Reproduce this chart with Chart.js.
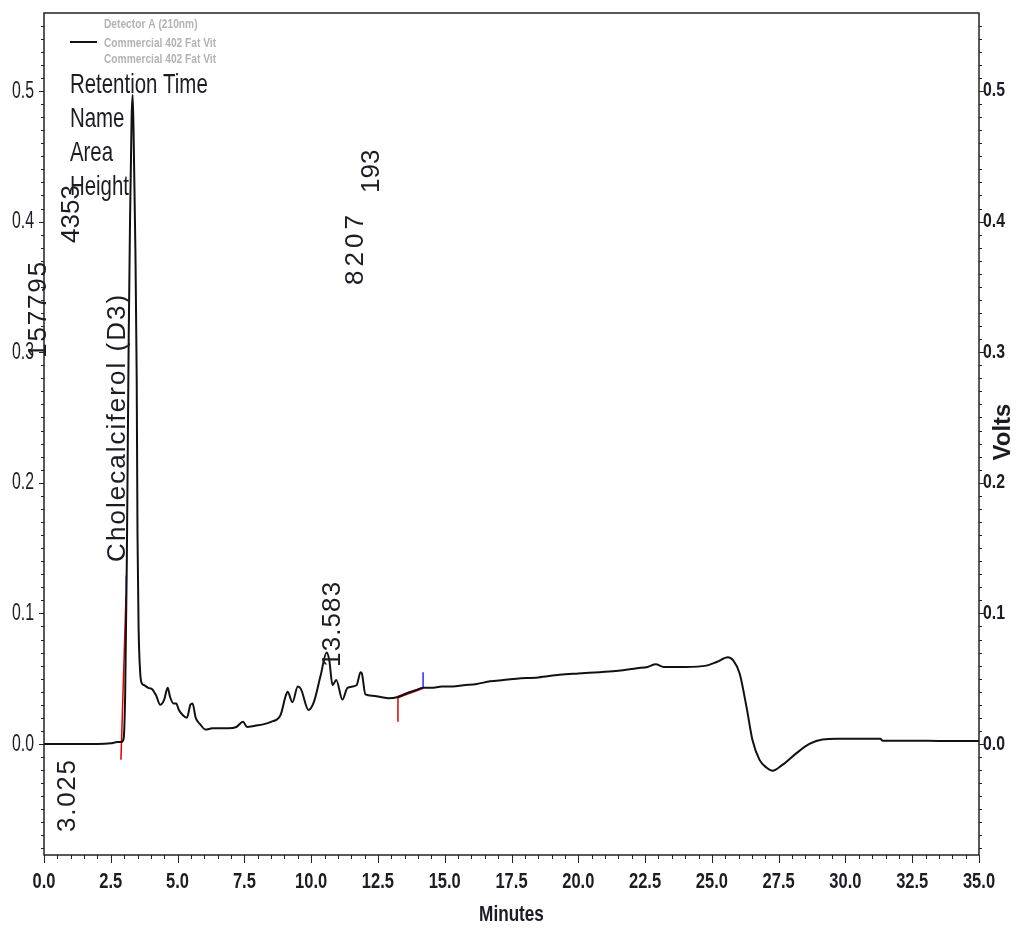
<!DOCTYPE html>
<html><head><meta charset="utf-8">
<script src="https://cdn.jsdelivr.net/npm/chart.js@4.4.0/dist/chart.umd.min.js"></script>
<style>html,body{margin:0;padding:0;background:#fff;}#wrap{width:1016px;height:932px;position:relative;}</style>
</head><body><div id="wrap"><canvas id="c" width="1016" height="932"></canvas></div>
<script>
// ---- data ----
const times = [0.0,0.5,1.0,1.5,2.0,2.5,2.75,2.9,2.98,3.04,3.1,3.17,3.22,3.28,3.32,3.36,3.42,3.47,3.5,3.54,3.6,3.65,3.75,3.9,4.05,4.2,4.35,4.5,4.63,4.72,4.85,4.95,5.05,5.2,5.35,5.48,5.56,5.68,5.85,6.05,6.3,6.6,6.9,7.2,7.45,7.6,7.9,8.2,8.5,8.85,9.05,9.12,9.3,9.5,9.62,9.9,10.1,10.35,10.58,10.68,10.8,10.94,11.17,11.36,11.7,11.85,11.9,12.03,12.3,12.6,12.9,13.25,13.6,13.9,14.2,14.5,14.9,15.3,15.7,16.2,16.7,17.2,17.7,18.5,19.3,20.0,20.8,21.5,22.2,22.6,22.9,23.2,24.0,24.8,25.2,25.6,25.8,26.04,26.3,26.52,26.78,27.04,27.27,27.64,28.17,28.65,29.14,29.7,30.5,31.3,31.4,32.5,33.5,35.0];
const volts = [0.000,0.000,0.000,0.000,0.000,0.0005,0.0015,0.0015,0.004,0.04,0.14,0.31,0.40,0.48,0.497,0.46,0.38,0.28,0.16,0.09,0.055,0.047,0.045,0.043,0.042,0.037,0.030,0.034,0.043,0.036,0.031,0.031,0.026,0.022,0.020,0.030,0.031,0.020,0.015,0.011,0.012,0.012,0.012,0.013,0.017,0.013,0.014,0.015,0.017,0.022,0.037,0.040,0.032,0.044,0.042,0.026,0.032,0.052,0.070,0.064,0.045,0.049,0.034,0.043,0.045,0.055,0.054,0.038,0.037,0.036,0.035,0.036,0.039,0.041,0.043,0.043,0.044,0.044,0.045,0.046,0.048,0.049,0.050,0.051,0.053,0.054,0.055,0.056,0.058,0.059,0.061,0.059,0.059,0.060,0.063,0.0665,0.064,0.054,0.028,0.003,-0.012,-0.018,-0.0205,-0.016,-0.007,0.0,0.0035,0.004,0.004,0.004,0.0025,0.0025,0.0023,0.0022];

// integration markers (baseline / drop lines)
const redMark1T = [2.88, 3.07];   const redMark1V = [-0.012, 0.114];
const blueMark1T = [3.07, 3.08];  const blueMark1V = [0.114, 0.129];
const redTick2T = [13.25, 13.25]; const redTick2V = [0.017, 0.036];
const redLine2T = [13.25, 14.19]; const redLine2V = [0.036, 0.043];
const blueTick2T = [14.19, 14.19];const blueTick2V = [0.043, 0.055];

const xTickLabels = ['0.0','2.5','5.0','7.5','10.0','12.5','15.0','17.5','20.0','22.5','25.0','27.5','30.0','32.5','35.0'];
const xTickValues = [0,2.5,5,7.5,10,12.5,15,17.5,20,22.5,25,27.5,30,32.5,35];
const yTickLabels = ['0.0','0.1','0.2','0.3','0.4','0.5'];
const yTickValues = [0,0.1,0.2,0.3,0.4,0.5];

const legendTitle = 'Detector A (210nm)';
const legendSeries = ['Commercial 402 Fat Vit','Commercial 402 Fat Vit'];
const headerLines = ['Retention Time','Name','Area','Height'];
const headerX = [0.97,0.97,0.97,0.97];
const headerY = [0.4985,0.4724,0.4464,0.4204];
const peakLabels = ['4353','157795','Cholecalciferol (D3)','3.025','13.583','8207','193'];
const peakLabelX = [1.05,-0.19,2.77,0.90,10.82,11.68,12.28];
const peakLabelY = [0.3836,0.2956,0.1394,-0.0674,0.059,0.3515,0.4219];
const peakLabelLen = [53,96,267,72,85,70,43];

const pts = (t, v) => t.map((x, i) => ({x: x, y: v[i]}));

const TEXT = '#1c1c24';
const SANS = '"Liberation Sans", Arial, sans-serif';

function drawFit(ctx, text, x, y, font, sx, align, baseline, color) {
  ctx.save();
  ctx.font = font; ctx.fillStyle = color || TEXT;
  ctx.textAlign = align || 'left'; ctx.textBaseline = baseline || 'alphabetic';
  ctx.translate(x, y); ctx.scale(sx, 1);
  ctx.fillText(text, 0, 0);
  ctx.restore();
}

const decor = {
  id: 'decor',
  afterDraw(chart) {
    const ctx = chart.ctx, a = chart.chartArea;
    const xs = chart.scales.x, ys = chart.scales.y, ys2 = chart.scales.y2;
    ctx.save();
    ctx.strokeStyle = '#222'; ctx.lineWidth = 1.5;
    ctx.strokeRect(a.left, a.top, a.right - a.left, a.bottom - a.top);
    ctx.lineWidth = 1;
    ctx.beginPath();
    for (let i = 0; i <= 70; i++) {
      const v = i * 0.5, p = Math.round(xs.getPixelForValue(v)) + 0.5;
      const major = (i % 5 === 0);
      ctx.moveTo(p, a.bottom); ctx.lineTo(p, a.bottom + (major ? 8 : 4));
    }
    for (let i = -8; i <= 55; i++) {
      const v = i * 0.01, p = Math.round(ys.getPixelForValue(v)) + 0.5;
      const major = (i % 10 === 0);
      ctx.moveTo(a.left, p); ctx.lineTo(a.left - (major ? 5 : 3), p);
      const p2 = Math.round(ys2.getPixelForValue(v)) + 0.5;
      ctx.moveTo(a.right, p2); ctx.lineTo(a.right + (major ? 5 : 3), p2);
    }
    ctx.stroke();
    ctx.restore();

    xTickValues.forEach((v, i) => {
      drawFit(ctx, xTickLabels[i], xs.getPixelForValue(v), 882, 'bold 22px ' + SANS, 0.75, 'center', 'middle');
    });
    yTickValues.forEach((v, i) => {
      drawFit(ctx, yTickLabels[i], a.left - 10, ys.getPixelForValue(v), '24px ' + SANS, 0.66, 'right', 'middle');
      drawFit(ctx, yTickLabels[i], a.right + 4, ys2.getPixelForValue(v), 'bold 20px ' + SANS, 0.79, 'left', 'middle');
    });
    drawFit(ctx, 'Minutes', (a.left + a.right) / 2, 915, 'bold 22px ' + SANS, 0.78, 'center', 'middle');
    ctx.save();
    ctx.translate(1003, 432); ctx.rotate(-Math.PI / 2);
    ctx.font = 'bold 24px ' + SANS; ctx.fillStyle = TEXT;
    ctx.textAlign = 'center'; ctx.textBaseline = 'middle';
    ctx.fillText('Volts', 0, 0);
    ctx.restore();

    ctx.save();
    ctx.strokeStyle = '#111'; ctx.lineWidth = 2;
    ctx.beginPath(); ctx.moveTo(70, 42); ctx.lineTo(97, 42); ctx.stroke();
    ctx.restore();
    drawFit(ctx, legendTitle, 104, 28, 'bold 12px ' + SANS, 0.85, 'left', 'alphabetic', '#b3b3b3');
    legendSeries.forEach((s, i) => {
      drawFit(ctx, s, 104, 47 + i * 16, 'bold 12px ' + SANS, 0.85, 'left', 'alphabetic', '#b3b3b3');
    });

    headerLines.forEach((s, i) => {
      drawFit(ctx, s, xs.getPixelForValue(headerX[i]), ys.getPixelForValue(headerY[i]), '28px ' + SANS, 0.73, 'left', 'alphabetic');
    });

    peakLabels.forEach((s, i) => {
      ctx.save();
      ctx.font = '26px ' + SANS;
      ctx.fillStyle = TEXT;
      const natural = ctx.measureText(s).width;
      const gap = s.length > 1 ? Math.max(0, (peakLabelLen[i] - natural) / (s.length - 1)) : 0;
      ctx.translate(xs.getPixelForValue(peakLabelX[i]), ys.getPixelForValue(peakLabelY[i]));
      ctx.rotate(-Math.PI / 2);
      ctx.textAlign = 'left'; ctx.textBaseline = 'middle';
      if ('letterSpacing' in ctx) {
        ctx.letterSpacing = gap.toFixed(2) + 'px';
        ctx.fillText(s, 0, 0);
      } else {
        let x = 0;
        for (const ch of s) { ctx.fillText(ch, x, 0); x += ctx.measureText(ch).width + gap; }
      }
      ctx.restore();
    });
  }
};

new Chart(document.getElementById('c'), {
  type: 'line',
  data: {
    datasets: [
      {data: pts(times, volts), borderColor: '#111', borderWidth: 2, pointRadius: 0, cubicInterpolationMode: 'monotone', yAxisID: 'y'},
      {data: pts(redMark1T, redMark1V), borderColor: '#e00000', borderWidth: 1.5, pointRadius: 0, yAxisID: 'y'},
      {data: pts(blueMark1T, blueMark1V), borderColor: '#2a2aff', borderWidth: 1.5, pointRadius: 0, yAxisID: 'y'},
      {data: pts(redTick2T, redTick2V), borderColor: '#e00000', borderWidth: 1.5, pointRadius: 0, yAxisID: 'y'},
      {data: pts(redLine2T, redLine2V), borderColor: '#e00000', borderWidth: 2.5, pointRadius: 0, yAxisID: 'y'},
      {data: pts(blueTick2T, blueTick2V), borderColor: '#2a2aff', borderWidth: 1.5, pointRadius: 0, yAxisID: 'y'}
    ]
  },
  options: {
    responsive: false, animation: false, devicePixelRatio: 1,
    layout: {padding: {top: 13, left: 0, right: 0, bottom: 0}},
    plugins: {legend: {display: false}, tooltip: {enabled: false}},
    scales: {
      x: {type: 'linear', min: 0, max: 35, ticks: {display: false}, grid: {display: false}, border: {display: false},
          afterFit: s => { s.height = 77; }},
      y: {type: 'linear', position: 'left', min: -0.085, max: 0.5597, ticks: {display: false}, grid: {display: false}, border: {display: false},
          afterFit: s => { s.width = 44; }},
      y2: {type: 'linear', position: 'right', min: -0.085, max: 0.5597, ticks: {display: false}, grid: {display: false}, border: {display: false},
          afterFit: s => { s.width = 37; }}
    }
  },
  plugins: [decor]
});
</script></body></html>
